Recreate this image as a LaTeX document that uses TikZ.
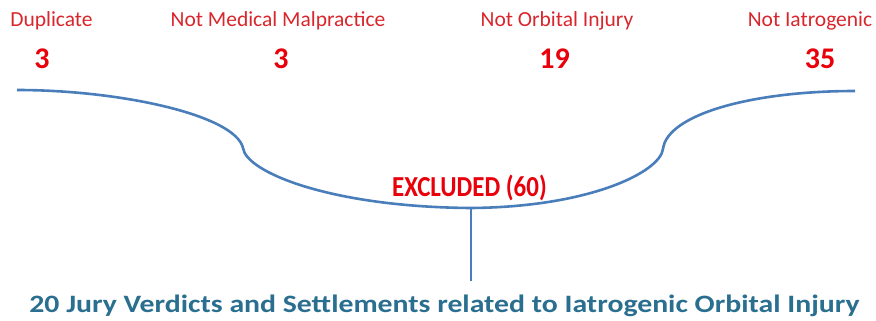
\documentclass[tikz,border=0pt]{standalone}
\usepackage{fontspec}
\setmainfont{Carlito}
\definecolor{brace}{HTML}{4A7EBB}
\definecolor{labelred}{HTML}{D8262C}
\definecolor{numred}{HTML}{E8000B}
\definecolor{teal}{HTML}{2A6F8F}
\tikzset{
  label/.style={text=labelred, font=\fontsize{21.5}{26}\selectfont, inner sep=0pt, anchor=base},
  count/.style={text=numred, font=\fontsize{30}{34}\selectfont\bfseries, inner sep=0pt, anchor=base},
  excl/.style={text=numred, font=\fontsize{29}{34}\selectfont\bfseries, inner sep=0pt, anchor=base, xscale=0.86},
  result/.style={text=teal, font=\fontsize{25}{30}\selectfont\bfseries, inner sep=0pt, anchor=base, xscale=1.19}
}
\begin{document}
\begin{tikzpicture}[x=1pt, y=-1pt]
            \useasboundingbox (0,0) rectangle (876,321);
            \node[label] (dup) at (51.5,26.5) {Duplicate};
            \node[label] (mal) at (278,26.5) {Not Medical Malpractice};
            \node[label] (orb) at (557,26.5) {Not Orbital Injury};
            \node[label] (iat) at (810,26.5) {Not Iatrogenic};
            \node[count] (ndup) at (42,68.5) {3};
            \node[count] (nmal) at (281,68.5) {3};
            \node[count] (norb) at (554.5,68.5) {19};
            \node[count] (niat) at (820,68.5) {35};
            \node[excl] (exc) at (469.5,196) {EXCLUDED (60)};
            \node[result] (res) at (444.5,312) {20 Jury Verdicts and Settlements related to Iatrogenic Orbital Injury};
            \coordinate (lend) at (17,90);
            \coordinate (lkink) at (243,148);
            \coordinate (mid) at (471,208);
            \coordinate (rkink) at (663,149);
            \coordinate (rend) at (855,91);
            \coordinate (stem) at (471,281);
            \draw [brace, line width=2.6pt] (lend) .. controls (120,90) and (235,115) .. (lkink)
                .. controls (246,172) and (330,207) .. (mid)
                .. controls (590,207) and (660,172) .. (rkink)
                .. controls (667,115) and (750,91) .. (rend);
            \draw [brace, line width=1.8pt] (mid) -- (stem);
\end{tikzpicture}
\end{document}
